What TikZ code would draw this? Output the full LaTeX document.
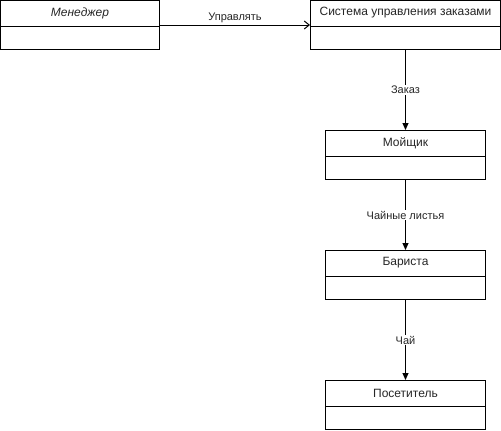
\documentclass[tikz,border=0pt]{standalone}
\usepackage{fontspec}
\setmainfont{Liberation Sans}
\usetikzlibrary{arrows.meta}
\begin{document}
\begin{tikzpicture}[x=1pt,y=-1pt,line width=1pt,
  classbox/.style={draw=black,fill=white,minimum height=49pt,inner sep=0pt},
  classname/.style={font=\fontsize{12}{14}\selectfont,text=black!85},
  flow/.style={draw=black,-{Triangle[length=7pt,width=6pt]}},
  assoc/.style={draw=black,-{Straight Barb[length=5pt,width=8pt]}},
  edgelabel/.style={fill=white,font=\fontsize{11}{13}\selectfont,text=black!85,inner sep=1pt}]
\useasboundingbox (0,0) rectangle (501,431);

% class boxes
\node[classbox,minimum width=159pt] (mgr) at (80,25) {};
\node[classbox,minimum width=190pt] (sys) at (405.5,25) {};
\node[classbox,minimum width=160pt] (wash) at (405.5,155) {};
\node[classbox,minimum width=160pt] (bar) at (405.5,275) {};
\node[classbox,minimum width=160pt] (vis) at (405.5,405) {};

% compartment dividers
\foreach \b in {mgr,sys,wash,bar,vis}{
  \draw ([yshift=-26pt]\b.north west) -- ([yshift=-26pt]\b.north east);
}

% class names
\node[classname,font=\fontsize{12}{14}\selectfont\itshape] (mgrname) at ([yshift=-13pt]mgr.north) {Менеджер};
\node[classname] (sysname) at ([yshift=-13pt]sys.north) {Система управления заказами};
\node[classname] (washname) at ([yshift=-13pt]wash.north) {Мойщик};
\node[classname] (barname) at ([yshift=-13pt]bar.north) {Бариста};
\node[classname] (visname) at ([yshift=-13pt]vis.north) {Посетитель};

% connectors
\draw[assoc] (mgr.east) -- node[edgelabel,anchor=south,yshift=1pt] {Управлять} (sys.west);
\draw[flow] (sys.south) -- node[edgelabel] {Заказ} (wash.north);
\draw[flow] (wash.south) -- node[edgelabel] {Чайные листья} (bar.north);
\draw[flow] (bar.south) -- node[edgelabel] {Чай} (vis.north);
\end{tikzpicture}
\end{document}
